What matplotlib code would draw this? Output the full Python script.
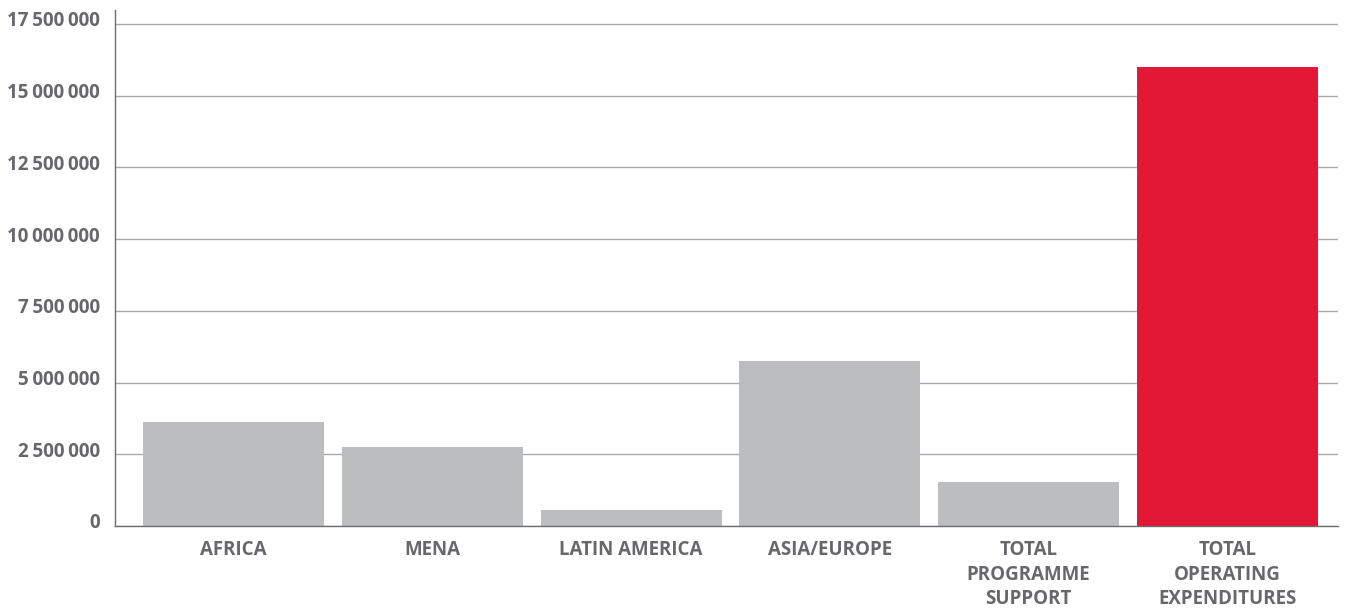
import matplotlib
matplotlib.use("Agg")
import matplotlib.pyplot as plt
import matplotlib.transforms as mtransforms
from matplotlib.ticker import FuncFormatter

categories = ["AFRICA", "MENA", "LATIN AMERICA", "ASIA/EUROPE",
              "TOTAL\nPROGRAMME\nSUPPORT", "TOTAL\nOPERATING\nEXPENDITURES"]
values = [3630000, 2760000, 560000, 5760000, 1540000, 16000000]
bar_colors = ["#BCBDBF", "#BCBDBF", "#BCBDBF", "#BCBDBF", "#BCBDBF", "#E31837"]
yticks = [0, 2500000, 5000000, 7500000, 10000000, 12500000, 15000000, 17500000]

text_color = "#67686B"
plt.rcParams['font.family'] = ['Open Sans', 'DejaVu Sans']

fig = plt.figure(figsize=(13.47, 6.08), dpi=100)
ax = fig.add_axes([115/1347, 1-526/608, (1338-115)/1347, (526-9.5)/608])

x = list(range(len(categories)))
ax.bar(x, values, width=0.91, color=bar_colors, zorder=2)

ax.set_xlim(-0.596, 5.556)
ax.set_ylim(0, 18000000)
ax.set_yticks(yticks)

def fmt(v, pos):
    s = f"{int(v):,}".replace(",", "\u2009")
    return s
ax.yaxis.set_major_formatter(FuncFormatter(fmt))

ax.grid(axis='y', color="#A7A9AC", linewidth=1.0, zorder=0)
ax.set_axisbelow(True)
for s in ["top", "right"]:
    ax.spines[s].set_visible(False)
ax.spines["left"].set_color("#6D6E71")
ax.spines["bottom"].set_color("#6D6E71")
ax.spines["left"].set_linewidth(1.0)
ax.spines["bottom"].set_linewidth(1.0)
ax.spines["bottom"].set_zorder(3)

ax.tick_params(axis='y', length=0, pad=11, labelsize=13.5, labelcolor=text_color)
ax.tick_params(axis='x', length=0, pad=10, labelsize=13.5, labelcolor=text_color)
for lbl in ax.get_yticklabels():
    lbl.set_fontweight('bold')
    lbl.set_transform(lbl.get_transform() + mtransforms.ScaledTranslation(0, 5/100, fig.dpi_scale_trans))

ax.set_xticks(x)
ax.set_xticklabels(categories, fontweight='bold', linespacing=1.32, va='top')

fig.savefig("out.png", dpi=100)
